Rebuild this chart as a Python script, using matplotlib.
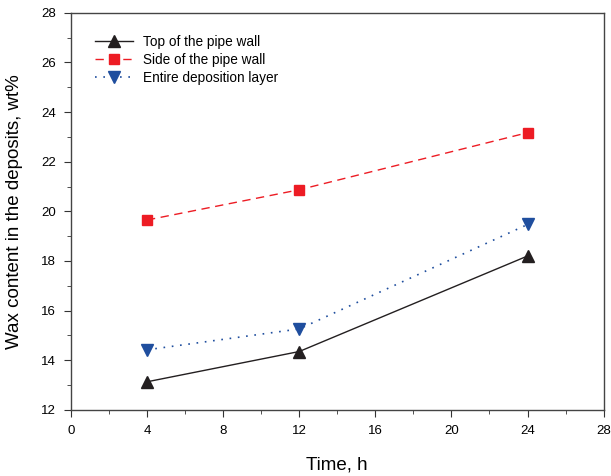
import matplotlib
matplotlib.use("Agg")
import matplotlib.pyplot as plt
from matplotlib.ticker import MultipleLocator

plt.rcParams["font.family"] = ["Liberation Sans", "DejaVu Sans"]

# dados
tempo = [4, 12, 24]
topo = [13.13, 14.35, 18.2]
lado = [19.65, 20.87, 23.17]
camada = [14.42, 15.26, 19.47]

fig = plt.figure(figsize=(6.11, 4.76), dpi=100)
ax = fig.add_axes([0.116, 0.139, 0.872, 0.834])

ax.plot(tempo, topo, color="#231f20", linestyle="-", linewidth=1.0,
        marker="^", markersize=8, label="Top of the pipe wall")
ax.plot(tempo, lado, color="#ed1c24", linestyle=(0, (6, 4)), linewidth=1.0,
        marker="s", markersize=7, label="Side of the pipe wall")
ax.plot(tempo, camada, color="#1f4e9e", linestyle=(0, (1, 4)), linewidth=1.2,
        marker="v", markersize=8, label="Entire deposition layer")

ax.set_xlim(0, 28)
ax.set_ylim(12, 28)
ax.xaxis.set_major_locator(MultipleLocator(4))
ax.xaxis.set_minor_locator(MultipleLocator(2))
ax.yaxis.set_major_locator(MultipleLocator(2))
ax.yaxis.set_minor_locator(MultipleLocator(1))
ax.tick_params(which="both", direction="out", labelsize=9.5, color="#333333")
ax.tick_params(which="major", length=5, pad=6)
ax.tick_params(which="minor", length=3)
for s in ax.spines.values():
    s.set_color("#444444")
    s.set_linewidth(1.0)

ax.set_xlabel("Time, h", fontsize=13.5)
ax.set_ylabel("Wax content in the deposits, wt%", fontsize=13.5)
ax.xaxis.set_label_coords(0.5, -0.118)
ax.yaxis.set_label_coords(-0.089, 0.5)

ax.legend(loc="upper left", bbox_to_anchor=(0.045, 0.945), frameon=False,
          fontsize=9.8, handlelength=2.8, handletextpad=0.75,
          labelspacing=0.3, borderpad=0, borderaxespad=0)

fig.savefig("out.png", dpi=100)
